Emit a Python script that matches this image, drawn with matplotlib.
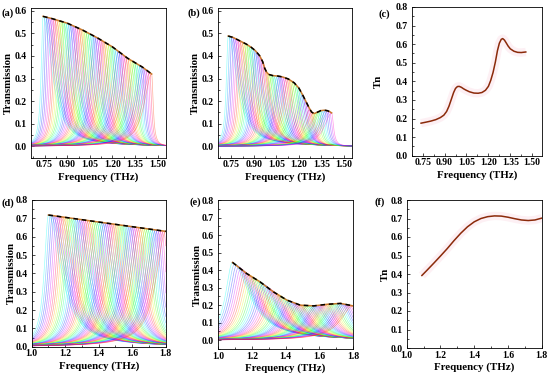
import numpy as np
import matplotlib
matplotlib.use("Agg")
import matplotlib.pyplot as plt
from matplotlib.ticker import MultipleLocator

plt.rcParams['font.family'] = ['Liberation Serif', 'DejaVu Serif']
plt.rcParams['font.weight'] = 'bold'
plt.rcParams['axes.linewidth'] = 0.6

# envelope of the resonance peaks (frequency THz, transmission)
env_a_f = [0.74, 0.80, 0.90, 1.00, 1.10, 1.20, 1.30, 1.40, 1.46]
env_a_t = [0.575, 0.565, 0.545, 0.515, 0.48, 0.44, 0.39, 0.35, 0.32]

env_b_f = [0.728, 0.76, 0.805, 0.85, 0.882, 0.91, 0.938, 0.958, 0.972, 0.986, 1.00, 1.026,
           1.06, 1.092, 1.13, 1.169, 1.20, 1.225, 1.25, 1.269, 1.285, 1.302, 1.32, 1.346,
           1.37, 1.39, 1.405, 1.419]
env_b_t = [0.488, 0.482, 0.467, 0.452, 0.438, 0.423, 0.401, 0.375, 0.345, 0.327, 0.318, 0.313,
           0.311, 0.307, 0.298, 0.281, 0.258, 0.228, 0.195, 0.170, 0.152, 0.145, 0.150, 0.158,
           0.160, 0.158, 0.154, 0.148]

env_d_f = [1.10, 1.80]
env_d_t = [0.718, 0.629]

env_e_f = [1.086, 1.169, 1.249, 1.328, 1.408, 1.488, 1.567, 1.647, 1.726, 1.80]
env_e_t = [0.444, 0.381, 0.333, 0.276, 0.229, 0.200, 0.196, 0.205, 0.210, 0.196]

# Tn curves
tn_c_f = [0.739, 0.77, 0.805, 0.84, 0.871, 0.895, 0.914, 0.93, 0.947, 0.962, 0.975, 0.988,
          1.000, 1.015, 1.030, 1.046, 1.070, 1.101, 1.130, 1.156, 1.180, 1.200, 1.216, 1.232,
          1.248, 1.262, 1.275, 1.288, 1.298, 1.310, 1.322, 1.335, 1.350, 1.375, 1.400, 1.425, 1.456]
tn_c_t = [0.175, 0.180, 0.186, 0.194, 0.205, 0.218, 0.238, 0.266, 0.305, 0.340, 0.362, 0.372,
          0.373, 0.368, 0.360, 0.353, 0.344, 0.337, 0.336, 0.340, 0.352, 0.373, 0.405, 0.448,
          0.505, 0.565, 0.605, 0.626, 0.630, 0.622, 0.607, 0.590, 0.575, 0.562, 0.556, 0.555, 0.558]

tn_f_f = [1.09, 1.12, 1.16, 1.20, 1.24, 1.28, 1.32, 1.36, 1.40, 1.44, 1.48, 1.52, 1.56,
          1.60, 1.64, 1.68, 1.72, 1.76, 1.80]
tn_f_t = [0.392, 0.420, 0.458, 0.497, 0.537, 0.580, 0.620, 0.655, 0.682, 0.700, 0.710, 0.714,
          0.713, 0.707, 0.699, 0.692, 0.689, 0.692, 0.702]

W, H = 550, 377
fig = plt.figure(figsize=(5.5, 3.77), dpi=100)


def add_ax(x0, x1, y0, y1):
    return fig.add_axes([x0 / W, 1 - y1 / H, (x1 - x0) / W, (y1 - y0) / H])


def style(ax, xlim, ylim, xmaj, ymaj, ylabel, ylab_x, xlab_y):
    ax.set_xlim(*xlim)
    ax.set_ylim(*ylim)
    ax.xaxis.set_major_locator(MultipleLocator(xmaj))
    ax.xaxis.set_minor_locator(MultipleLocator(xmaj / 2))
    ax.yaxis.set_major_locator(MultipleLocator(ymaj))
    ax.yaxis.set_minor_locator(MultipleLocator(ymaj / 2))
    ax.tick_params(which='major', direction='in', length=2.5, width=0.5, labelsize=7, pad=2)
    ax.tick_params(which='minor', direction='in', length=1.3, width=0.5)
    ax.tick_params(axis='y', pad=3)
    for lab in ax.get_xticklabels() + ax.get_yticklabels():
        lab.set_fontweight('bold')
    ax.set_xlabel('Frequency (THz)', fontsize=7.8, fontweight='bold')
    ax.set_ylabel(ylabel, fontsize=7.8, fontweight='bold')
    ax.xaxis.set_label_coords(0.5, xlab_y)
    ax.xaxis.label.set_va('center')
    ax.yaxis.set_label_coords(ylab_x, 0.5)
    ax.yaxis.label.set_va('center')


def family(ax, env_f, env_t, n, gl, gr, xlim):
    f = np.linspace(xlim[0], xlim[1], 900)
    peaks = np.linspace(env_f[0], env_f[-1], n)
    amps = np.interp(peaks, env_f, env_t)
    cmap = plt.get_cmap('hsv')
    for i, (f0, a) in enumerate(zip(peaks, amps)):
        s = i / (n - 1)
        g_left = gl[0] + (gl[1] - gl[0]) * s
        g_right = gr[0] + (gr[1] - gr[0]) * s
        g = np.where(f < f0, g_left, g_right)
        t = a / (1 + ((f - f0) / g) ** 2)
        col = cmap((0.5 + i / 13.0) % 1.0)
        ax.plot(f, t, color=col, lw=0.5, alpha=0.4)
    ax.plot(env_f, env_t, color='#c8782a', lw=1.1)
    ax.plot(env_f, env_t, color='black', lw=1.1, dashes=(3, 2.5))


def tn(ax, fx, ty):
    ax.plot(fx, ty, color='#fdf0f4', lw=6, solid_capstyle='butt')
    ax.plot(fx, ty, color='#8b2a0a', lw=1.1)


xl1 = (0.66, 1.555)
xl2 = (1.0, 1.8)

ax_a = add_ax(31, 166, 8, 157.7)
family(ax_a, env_a_f, env_a_t, 60, (0.015, 0.06), (0.07, 0.012), xl1)
style(ax_a, xl1, (-0.05, 0.612), 0.15, 0.1, 'Transmission', -0.17, -0.13)

ax_b = add_ax(218, 352, 8, 157.7)
family(ax_b, env_b_f, env_b_t, 58, (0.015, 0.06), (0.07, 0.015), xl1)
style(ax_b, xl1, (-0.05, 0.612), 0.15, 0.1, 'Transmission', -0.17, -0.13)

ax_c = add_ax(411.7, 541.7, 7, 155.7)
tn(ax_c, tn_c_f, tn_c_t)
style(ax_c, (0.675, 1.565), (0.0, 0.8), 0.15, 0.1, 'Tn', -0.26, -0.13)

ax_d = add_ax(31.7, 165.7, 200, 346.7)
family(ax_d, env_d_f, env_d_t, 60, (0.03, 0.07), (0.09, 0.03), xl2)
style(ax_d, xl2, (0.0, 0.8), 0.2, 0.1, 'Transmission', -0.15, -0.13)

ax_e = add_ax(218, 353, 200, 349)
family(ax_e, env_e_f, env_e_t, 60, (0.05, 0.09), (0.12, 0.06), xl2)
style(ax_e, xl2, (-0.05, 0.8), 0.2, 0.1, 'Transmission', -0.155, -0.13)

ax_f = add_ax(406.7, 541.7, 200, 348)
tn(ax_f, tn_f_f, tn_f_t)
style(ax_f, xl2, (0.0, 0.8), 0.2, 0.1, 'Tn', -0.16, -0.13)

for lab, (px, py) in zip(['(a)', '(b)', '(c)', '(d)', '(e)', '(f)'],
                         [(8, 13), (194, 13), (384, 14), (8, 203), (195, 202), (380, 202)]):
    fig.text(px / W, 1 - py / H, lab, fontsize=7.5, fontweight='bold', ha='center', va='center')

fig.savefig('out.png', dpi=100)
